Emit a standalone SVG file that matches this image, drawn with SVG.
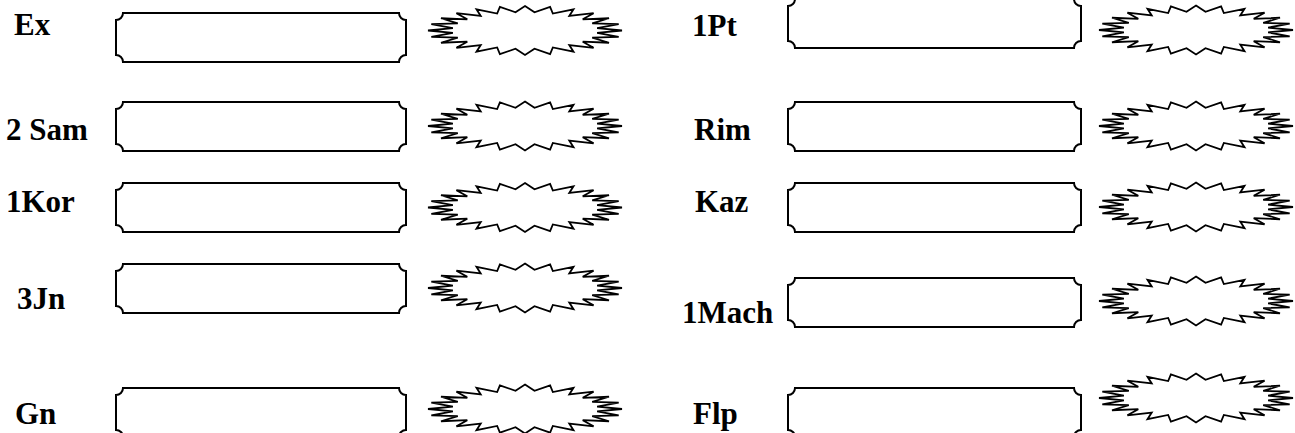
<svg xmlns="http://www.w3.org/2000/svg" xmlns:xlink="http://www.w3.org/1999/xlink" width="1295" height="433" viewBox="0 0 1295 433">
<style>
.lbl{font-family:"Liberation Serif","Times New Roman",serif;font-weight:bold;font-size:31px;fill:#000}
.plq{fill:#fff;stroke:#000;stroke-width:2}
.star{fill:#fff;stroke:#000;stroke-width:1.8;stroke-linejoin:miter}
</style>
<defs>
<path id="plqL" d="M7,0 H283 A7,7 0 0 0 290,7 V42 A7,7 0 0 0 283,49 H7 A7,7 0 0 0 0,42 V7 A7,7 0 0 0 7,0 Z"/>
<path id="plqR" d="M7,0 H286 A7,7 0 0 0 293,7 V42 A7,7 0 0 0 286,49 H7 A7,7 0 0 0 0,42 V7 A7,7 0 0 0 7,0 Z"/>
<path id="star" d="M0,-24.5 L9.49,-18.22 L25.1,-23.67 L27.84,-16.98 L48.5,-21.22 L44.29,-14.58 L68.59,-17.32 L57.72,-11.19 L84,-12.25 L67.21,-7.03 L93.69,-6.34 L72.12,-2.4 L97,0 L72.12,2.4 L93.69,6.34 L67.21,7.03 L84,12.25 L57.72,11.19 L68.59,17.32 L44.29,14.58 L48.5,21.22 L27.84,16.98 L25.1,23.67 L9.49,18.22 L0,24.5 L-9.49,18.22 L-25.1,23.67 L-27.84,16.98 L-48.5,21.22 L-44.29,14.58 L-68.59,17.32 L-57.72,11.19 L-84,12.25 L-67.21,7.03 L-93.69,6.34 L-72.12,2.4 L-97,0 L-72.12,-2.4 L-93.69,-6.34 L-67.21,-7.03 L-84,-12.25 L-57.72,-11.19 L-68.59,-17.32 L-44.29,-14.58 L-48.5,-21.22 L-27.84,-16.98 L-25.1,-23.67 L-9.49,-18.22 Z"/>
</defs>
<g id="row-ex">
<text class="lbl" x="14" y="35">Ex</text>
<use class="plq" xlink:href="#plqL" href="#plqL" x="116" y="13"/>
<use class="star" xlink:href="#star" href="#star" x="525" y="30.5"/>
</g>
<g id="row-2sam">
<text class="lbl" x="6" y="140">2 Sam</text>
<use class="plq" xlink:href="#plqL" href="#plqL" x="116" y="102"/>
<use class="star" xlink:href="#star" href="#star" x="525" y="126"/>
</g>
<g id="row-1kor">
<text class="lbl" x="6" y="212">1Kor</text>
<use class="plq" xlink:href="#plqL" href="#plqL" x="116" y="183"/>
<use class="star" xlink:href="#star" href="#star" x="525" y="207.5"/>
</g>
<g id="row-3jn">
<text class="lbl" x="17" y="309">3Jn</text>
<use class="plq" xlink:href="#plqL" href="#plqL" x="116" y="264"/>
<use class="star" xlink:href="#star" href="#star" x="525" y="288"/>
</g>
<g id="row-gn">
<text class="lbl" x="15" y="424">Gn</text>
<use class="plq" xlink:href="#plqL" href="#plqL" x="116" y="388"/>
<use class="star" xlink:href="#star" href="#star" x="525" y="409"/>
</g>
<g id="row-1pt">
<text class="lbl" x="692" y="36">1Pt</text>
<use class="plq" xlink:href="#plqR" href="#plqR" x="788" y="-1"/>
<use class="star" xlink:href="#star" href="#star" x="1196" y="30"/>
</g>
<g id="row-rim">
<text class="lbl" x="694" y="140">Rim</text>
<use class="plq" xlink:href="#plqR" href="#plqR" x="788" y="102"/>
<use class="star" xlink:href="#star" href="#star" x="1196" y="126"/>
</g>
<g id="row-kaz">
<text class="lbl" x="695" y="212">Kaz</text>
<use class="plq" xlink:href="#plqR" href="#plqR" x="788" y="183"/>
<use class="star" xlink:href="#star" href="#star" x="1196" y="207"/>
</g>
<g id="row-1mach">
<text class="lbl" x="682" y="323">1Mach</text>
<use class="plq" xlink:href="#plqR" href="#plqR" x="788" y="278"/>
<use class="star" xlink:href="#star" href="#star" x="1196" y="301"/>
</g>
<g id="row-flp">
<text class="lbl" x="693" y="424">Flp</text>
<use class="plq" xlink:href="#plqR" href="#plqR" x="788" y="388"/>
<use class="star" xlink:href="#star" href="#star" x="1196" y="398"/>
</g>
<g id="connectors"/>
</svg>
